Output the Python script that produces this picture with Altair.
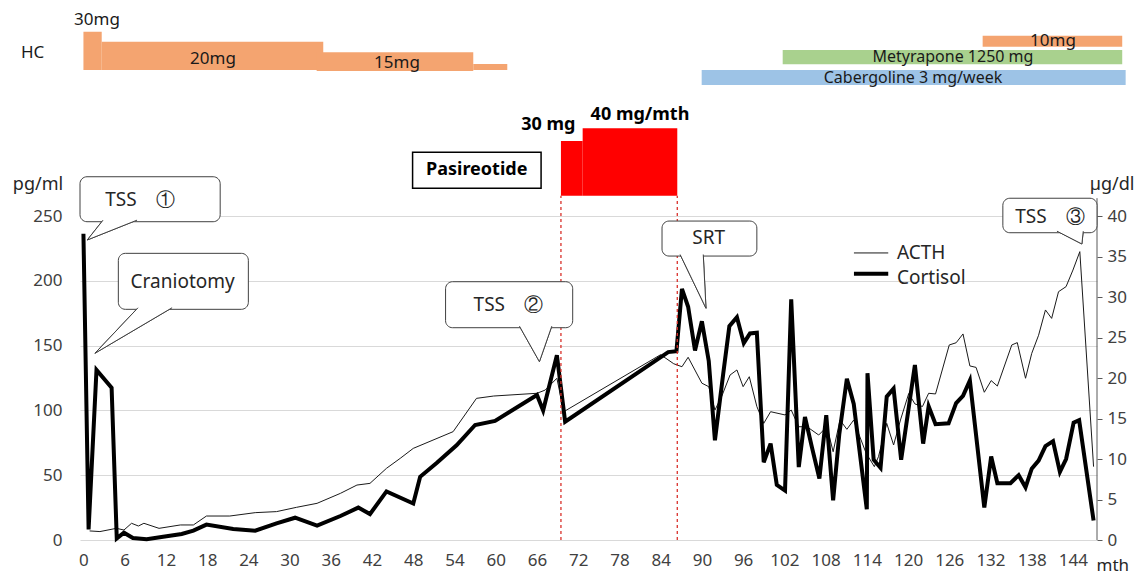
import altair as alt
import pandas as pd

# ---------------- data ----------------
acth_month = [0.9, 2.4, 4.8, 5.9, 7.0, 8.0, 8.8, 11.0, 14.1, 16.0,
              17.9, 21.3, 25.0, 28.1, 31.0, 34.0, 37.4, 39.8, 41.7, 44.1,
              46.1, 48.0, 53.8, 57.2, 59.7, 66.0, 67.2, 68.9, 69.9, 84.0,
              85.9, 87.1, 88.0, 90.0, 91.0, 91.9, 92.9, 94.1, 95.1, 96.0,
              96.9, 98.0, 99.0, 100.0, 102.1, 103.0, 104.1, 105.3, 107.0, 108.2,
              109.1, 110.1, 111.1, 112.1, 112.7, 113.9, 115.1, 115.7, 116.9, 117.9,
              118.9, 120.1, 121.0, 122.1, 123.0, 124.0, 126.0, 127.0, 128.0, 129.0,
              129.9, 131.1, 132.1, 133.0, 135.1, 135.9, 137.1, 138.0, 139.0, 140.0,
              140.9, 141.9, 143.0, 144.0, 145.0, 147.0]
acth_pgml = [7.0, 6.5, 9.0, 7.7, 12.9, 10.8, 12.9, 9.0, 11.6, 11.6,
             18.5, 18.5, 21.1, 21.9, 25.2, 28.3, 36.0, 42.4, 43.7, 55.3,
             63.0, 70.7, 83.6, 109.3, 111.1, 113.2, 115.7, 124.8, 99.0, 143.0,
             136.0, 133.7, 141.0, 121.0, 118.3, 100.3, 111.0, 127.3, 131.2, 118.3,
             126.0, 103.0, 90.0, 99.0, 96.5, 100.3, 87.4, 87.4, 81.0, 87.4,
             68.1, 92.6, 85.4, 92.6, 83.6, 67.0, 56.6, 64.3, 90.0, 73.3,
             92.6, 113.0, 105.0, 103.0, 113.2, 112.7, 150.5, 152.2, 159.0, 134.3,
             133.2, 114.0, 123.0, 118.8, 150.5, 152.3, 124.8, 144.0, 158.0, 177.5,
             171.0, 191.6, 195.5, 208.3, 222.5, 56.6]

cortisol_month = [0.0, 0.75, 1.9, 4.1, 4.85, 5.9, 7.2, 9.2, 11.6, 14.3,
                  16.0, 17.9, 21.8, 25.0, 28.1, 30.8, 34.0, 37.4, 40.0, 41.7,
                  44.1, 48.0, 49.0, 51.4, 54.3, 57.0, 59.9, 66.0, 66.9, 68.9,
                  70.1, 85.1, 86.3, 87.1, 88.0, 89.0, 90.0, 91.0, 91.9, 93.1,
                  94.0, 95.1, 96.1, 97.0, 98.0, 99.0, 100.0, 100.9, 102.1, 103.0,
                  104.1, 105.0, 106.0, 107.1, 108.1, 109.1, 110.0, 111.1, 112.1, 114.0,
                  114.1, 115.0, 116.0, 116.9, 117.9, 119.0, 121.0, 122.2, 123.0, 124.0,
                  125.9, 127.0, 128.0, 129.0, 131.1, 132.1, 133.0, 134.9, 136.1, 137.1,
                  138.0, 139.0, 140.0, 141.1, 142.1, 143.0, 144.1, 144.9, 147.0]
cortisol_ugdl = [37.8, 1.3, 21.0, 18.8, 0.2, 0.9, 0.25, 0.1, 0.4, 0.74,
                 1.15, 1.9, 1.36, 1.15, 2.05, 2.75, 1.77, 2.96, 4.0, 3.2,
                 6.0, 4.5, 7.8, 9.5, 11.7, 14.2, 14.7, 17.9, 16.0, 22.8,
                 14.6, 23.2, 23.3, 31.0, 28.8, 23.4, 27.0, 22.1, 12.3, 20.5,
                 26.4, 27.5, 24.3, 25.5, 25.6, 9.6, 11.9, 6.8, 6.1, 29.7,
                 9.0, 15.2, 11.5, 7.6, 15.4, 4.9, 13.1, 19.9, 16.8, 3.8,
                 20.6, 9.9, 8.9, 17.7, 18.7, 9.9, 21.6, 11.9, 16.5, 14.3,
                 14.4, 16.9, 17.8, 19.7, 4.0, 10.3, 7.0, 7.0, 8.0, 6.5,
                 8.8, 9.8, 11.6, 12.2, 8.4, 10.0, 14.5, 14.8, 2.4]

x_ticks = list(range(0, 145, 6))
left_ticks = [0, 50, 100, 150, 200, 250]
right_ticks = [0, 5, 10, 15, 20, 25, 30, 35, 40]

# treatment periods (months) and their band levels on the pg/ml scale
treat_start = [0.0, 2.66, 33.94, 56.73, 130.86, 101.76, 89.97, 69.49, 72.65]
treat_end = [2.66, 34.9, 56.73, 61.68, 151.17, 151.17, 151.67, 72.65, 86.42]
treat_low = [362.7, 362.7, 361.9, 362.7, 380.6, 367.1, 351.1, 265.7, 265.7]
treat_high = [392.2, 384.5, 376.3, 367.3, 389.1, 378.1, 362.7, 307.9, 317.7]
treat_color = ["#f4a470", "#f4a470", "#f4a470", "#f4a470", "#f4a470",
               "#a9d18e", "#9dc3e6", "#ff0000", "#ff0000"]

pasireotide_bounds = [69.49, 86.42]

# ---------------- scales / helpers ----------------
XDOM = [-0.5, 147.5]
YL_TOP = 410.5
YR_TOP = YL_TOP / 6.25
FONT = "Noto Sans"

xs = alt.Scale(domain=XDOM, nice=False, zero=False)
yls = alt.Scale(domain=[0, YL_TOP], nice=False, zero=False)
yrs = alt.Scale(domain=[0, YR_TOP], nice=False, zero=False)


def X(f):
    return alt.X(f, type="quantitative", scale=xs, axis=None)


def YL(f):
    return alt.Y(f, type="quantitative", scale=yls, axis=None)


def YR(f):
    return alt.Y(f, type="quantitative", scale=yrs, axis=None)


acth_df = pd.DataFrame({"m": acth_month, "v": acth_pgml})
cort_df = pd.DataFrame({"m": cortisol_month, "c": cortisol_ugdl})

# ACTH line carries the x axis and left axis + grid
acth_line = alt.Chart(acth_df).mark_line(color="#1a1a1a", strokeWidth=1).encode(
    x=alt.X("m:Q", scale=xs, title=None,
            axis=alt.Axis(values=x_ticks, grid=False, domain=False, ticks=False, tickSize=0,
                          labelFontSize=17, labelFont=FONT, labelColor="#404040",
                          labelPadding=12, labelFlush=False, labelOverlap=False)),
    y=alt.Y("v:Q", scale=yls, title=None,
            axis=alt.Axis(values=left_ticks, grid=True, gridColor="#d9d9d9", gridWidth=1,
                          domain=False, ticks=False, tickSize=0, labelFontSize=17,
                          labelFont=FONT, labelColor="#404040", labelPadding=18)),
)

cort_line = alt.Chart(cort_df).mark_line(color="#000000", strokeWidth=4, strokeJoin="miter").encode(
    x=X("m"),
    y=alt.Y("c:Q", scale=yrs, title=None,
            axis=alt.Axis(orient="right", values=right_ticks, grid=False, domain=False,
                          ticks=True, tickSize=5, tickColor="#595959", labelFontSize=17,
                          labelFont=FONT, labelColor="#404040", labelPadding=5)),
)

right_axis_line = alt.Chart(pd.DataFrame({"m": [XDOM[1]], "c0": [0.0], "c1": [42.2]})).mark_rule(
    color="#595959", strokeWidth=1).encode(x=X("m"), y=YR("c0"), y2="c1")

# treatment bars
treat_df = pd.DataFrame({"m0": treat_start, "m1": treat_end, "v0": treat_low,
                         "v1": treat_high, "col": treat_color})
treat_bars = alt.Chart(treat_df).mark_rect(stroke=None).encode(
    x=X("m0"), x2="m1", y=YL("v0"), y2="v1", color=alt.Color("col:N", scale=None))

# pasireotide dashed bounds
dash_df = pd.DataFrame({"m": pasireotide_bounds, "v0": [0, 0], "v1": [265.7, 265.7]})
dashes = alt.Chart(dash_df).mark_rule(color="#d9312b", strokeWidth=1.3, strokeDash=[3, 3]).encode(
    x=X("m"), y=YL("v0"), y2="v1")

# Pasireotide label box
pas_box = alt.Chart(pd.DataFrame({"m0": [47.9], "m1": [66.6], "v0": [271.4], "v1": [299.2]})).mark_rect(
    fill="white", stroke="#000000", strokeWidth=1.5).encode(x=X("m0"), x2="m1", y=YL("v0"), y2="v1")

# callout boxes
call_box_df = pd.DataFrame({
    "m0": [-0.5, 5.08, 52.7, 84.2, 133.8],
    "m1": [19.9, 24.0, 71.2, 98.0, 147.5],
    "v0": [245.6, 178.0, 163.8, 219.1, 237.1],
    "v1": [280.3, 221.2, 199.3, 246.1, 263.7],
})
call_boxes = alt.Chart(call_box_df).mark_rect(
    fill="white", stroke="#404040", strokeWidth=1, cornerRadius=7).encode(
    x=X("m0"), x2="m1", y=YL("v0"), y2="v1")

# callout pointers (base-left, tip, base-right)
ptr_rows = []
pointers = [
    ("a", 2.85, 0.56, 7.8, 245.6, 231.5),
    ("b", 7.94, 1.68, 12.9, 178.0, 144.1),
    ("c", 63.45, 66.36, 68.16, 163.8, 137.6),
    ("d", 86.83, 90.6, 90.2, 219.1, 178.8),
    ("e", 141.67, 145.3, 145.5, 237.1, 228.4),
]
for pid, bl, tip_m, br, base_v, tip_v in pointers:
    ptr_rows.append({"id": pid, "k": 0, "m": bl, "v": base_v + 1.2})
    ptr_rows.append({"id": pid, "k": 1, "m": tip_m, "v": tip_v})
    ptr_rows.append({"id": pid, "k": 2, "m": br, "v": base_v + 1.2})
ptr_df = pd.DataFrame(ptr_rows)
call_ptrs = alt.Chart(ptr_df).mark_line(fill="white", stroke="#404040", strokeWidth=1).encode(
    x=X("m"), y=YL("v"), detail="id:N", order="k:Q")

# legend
leg_df = pd.DataFrame({"m0": [112.13, 112.13], "m1": [117.12, 117.12], "v": [221.5, 205.5]})
leg_thin = alt.Chart(leg_df.iloc[[0]]).mark_rule(color="#1a1a1a", strokeWidth=1).encode(
    x=X("m0"), x2="m1", y=YL("v"))
leg_thick = alt.Chart(leg_df.iloc[[1]]).mark_rule(color="#000000", strokeWidth=4).encode(
    x=X("m0"), x2="m1", y=YL("v"))


def texts(rows, **mk):
    df = pd.DataFrame(rows, columns=["t", "m", "v"])
    return alt.Chart(df).mark_text(font=FONT, **mk).encode(x=X("m"), y=YL("v"), text="t:N")


txt_bars = texts([
    ("HC", -7.4, 375.5), ("30mg", 1.97, 401.2), ("20mg", 18.85, 371.1), ("15mg", 45.63, 368.1),
    ("10mg", 141.09, 385.0),
], fontSize=17, color="#1a1a1a", align="center", baseline="middle")
txt_bars2 = texts([
    ("Metyrapone 1250 mg", 126.54, 373.0), ("Cabergoline 3 mg/week", 120.72, 356.5),
], fontSize=16, color="#1a1a1a", align="center", baseline="middle")
txt_bold = texts([
    ("30 mg", 67.65, 320.2), ("40 mg/mth", 80.99, 327.9), ("Pasireotide", 57.23, 285.5),
], fontSize=18, fontWeight="bold", color="#000000", align="center", baseline="middle")
txt_call = texts([
    ("TSS\u3000\u2460", 8.23, 262.3), ("Craniotomy", 14.44, 199.1), ("TSS\u3000\u2461", 61.83, 181.3),
    ("SRT", 90.99, 233.0), ("TSS\u3000\u2462", 140.65, 249.5),
], fontSize=19, color="#262626", align="center", baseline="middle")
txt_leg = texts([
    ("ACTH", 118.39, 221.5), ("Cortisol", 118.39, 202.2),
], fontSize=19, color="#262626", align="left", baseline="middle")
txt_units = texts([
    ("pg/ml", -6.61, 273.9), ("\u00b5g/dl", 149.7, 273.9),
], fontSize=18, color="#262626", align="center", baseline="middle")
txt_mth = texts([
    ("mth", 149.8, -20.0),
], fontSize=17, color="#262626", align="center", baseline="middle")

chart = alt.layer(
    acth_line, cort_line, right_axis_line, treat_bars, dashes, pas_box,
    call_ptrs, call_boxes, call_ptrs,
    leg_thin, leg_thick,
    txt_bars, txt_bars2, txt_bold, txt_call, txt_leg, txt_units, txt_mth,
).resolve_scale(y="independent").resolve_axis(x="independent").properties(
    width=1017, height=532,
    autosize=alt.AutoSizeParams(type="none"),
    padding={"left": 72, "top": 0, "right": 41, "bottom": 35},
    background="white",
).configure_view(stroke=None)

chart.save("out.html", embed_options={"renderer": "svg", "actions": False})
